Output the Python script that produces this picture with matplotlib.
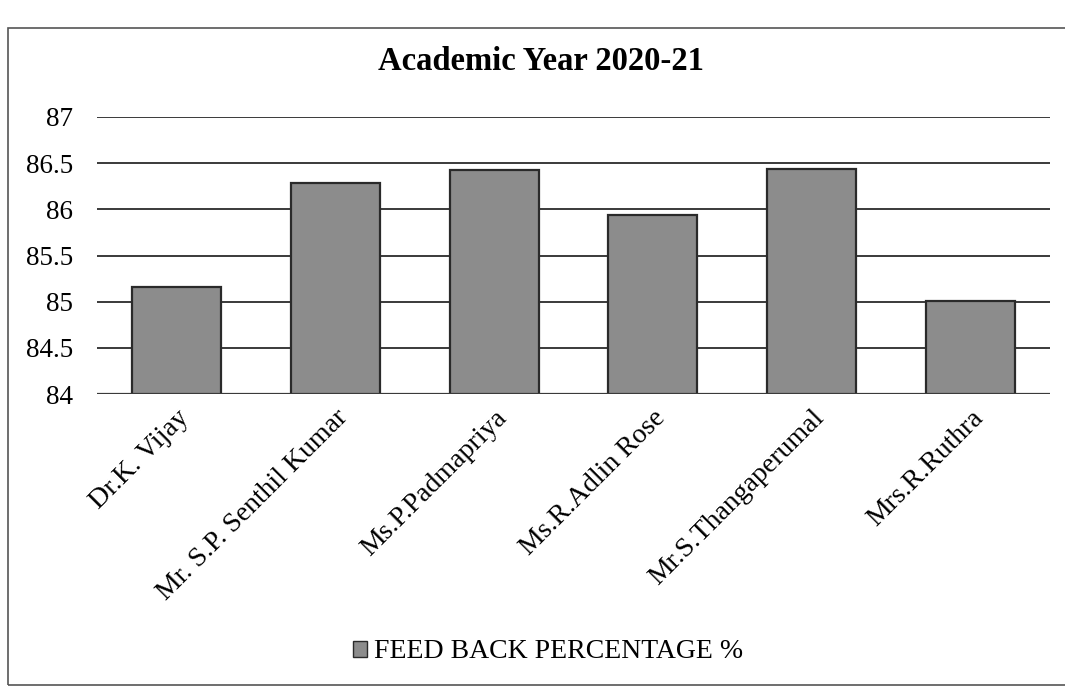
import matplotlib
matplotlib.use("Agg")
import matplotlib.pyplot as plt
from matplotlib.patches import Rectangle, Patch

categories = ["Dr.K. Vijay", "Mr. S.P. Senthil Kumar", "Ms.P.Padmapriya",
              "Ms.R.Adlin Rose", "Mr.S.Thangaperumal", "Mrs.R.Ruthra"]
values = [85.16, 86.29, 86.43, 85.94, 86.44, 85.01]
yticks = [84, 84.5, 85, 85.5, 86, 86.5, 87]
ytick_labels = ["84", "84.5", "85", "85.5", "86", "86.5", "87"]
title = "Academic Year 2020-21"
series_name = "FEED BACK PERCENTAGE %"

plt.rcParams['font.family'] = ['Liberation Serif', 'DejaVu Serif']

fig = plt.figure(figsize=(10.65, 6.88), dpi=100)
fig.patch.set_facecolor('white')
fig.patches.append(Rectangle((8/1065, 3/688), 1.2, 657/688, transform=fig.transFigure,
                             fill=False, edgecolor='#555555', linewidth=1.2))

ax = fig.add_axes([97/1065, 1 - 394/688, 953/1065, 277/688])
x = list(range(len(categories)))
ax.bar(x, values, width=0.56, bottom=0, color='#8c8c8c', edgecolor='#2a2a2a',
       linewidth=1.6, zorder=3)
ax.set_ylim(84, 87)
ax.set_xlim(-0.5, len(categories) - 0.5)
ax.set_yticks(yticks)
ax.set_yticklabels(ytick_labels, fontsize=19.5)
ax.set_xticks(x)
ax.set_xticklabels(categories, rotation=45, ha='right', va='top',
                   rotation_mode='anchor', fontsize=20)
ax.tick_params(axis='y', length=0, pad=17)
ax.tick_params(axis='x', length=0, pad=8)
ax.yaxis.grid(True, color='#3a3a3a', linewidth=1.4, zorder=0)
for s in ax.spines.values():
    s.set_visible(False)
ax.axhline(84, color='#3a3a3a', linewidth=1.6, zorder=4)

fig.text(541/1065, 1 - 62/688, title, ha='center', va='center',
         fontsize=23.5, fontweight='bold')

handle = Patch(facecolor='#8c8c8c', edgecolor='#2a2a2a', linewidth=1)
fig.legend([handle], [series_name], loc='center', bbox_to_anchor=(548/1065, 1 - 652/688),
           frameon=False, fontsize=20, handlelength=0.5, handleheight=0.5,
           handletextpad=0.25)

fig.savefig("out.png", dpi=100, facecolor='white')
